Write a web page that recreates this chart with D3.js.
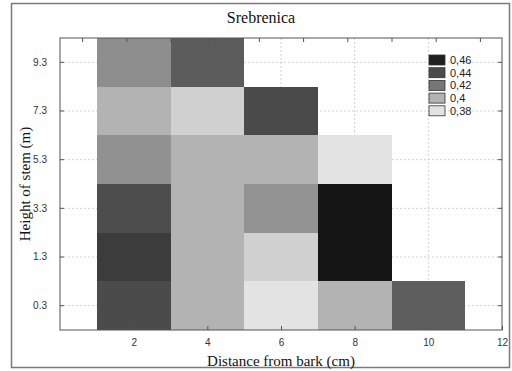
<!DOCTYPE html>
<html><head><meta charset="utf-8">
<script src="https://cdn.jsdelivr.net/npm/d3@7"></script>
<style>body{margin:0;background:#fff}svg{display:block}</style>
</head><body><svg id="c" width="512" height="371"></svg>
<script>
// ---- data ----
const heights = ["0.3","1.3","3.3","5.3","7.3","9.3"];
const distances = [2,4,6,8,10];
// values per distance column, listed bottom -> top (null = no data)
const col2  = [0.440, 0.447, 0.439, 0.411, 0.400, 0.412];
const col4  = [0.400, 0.400, 0.400, 0.400, 0.388, 0.432];
const col6  = [0.380, 0.388, 0.4105, 0.400, 0.4405, null];
const col8  = [0.400, 0.4645, 0.4645, 0.380, null, null];
const col10 = [0.431, null, null, null, null, null];
const legendValues = [0.46, 0.44, 0.42, 0.40, 0.38];
const legendLabels = ["0,46", "0,44", "0,42", "0,4", "0,38"];
const xTicks = [2, 4, 6, 8, 10, 12];
const title = "Srebrenica";
const xTitle = "Distance from bark (cm)";
const yTitle = "Height of stem (m)";

const columns = [col2, col4, col6, col8, col10];
const cells = [];
distances.forEach((d, i) => columns[i].forEach((v, j) => {
  if (v !== null) cells.push({d: d, h: heights[j], v: v});
}));

// ---- layout ----
const svg = d3.select("#c");
const L = 60, R = 502, T = 38, B = 330;
const x = d3.scaleLinear().domain([0, 12]).range([L, R]);
const y = d3.scaleBand().domain(heights).range([B, T]).padding(0);
const color = d3.scaleLinear()
  .domain([0.38, 0.40, 0.42, 0.44, 0.46])
  .range(["#e3e3e3", "#b3b3b3", "#767676", "#4b4b4b", "#1f1f1f"]);

svg.append("rect").attr("width", 512).attr("height", 371).attr("fill", "#fff");
// outer frame
svg.append("rect").attr("x", 11.5).attr("y", 3.5).attr("width", 498).attr("height", 364)
  .attr("fill", "none").attr("stroke", "#7a7a7a").attr("stroke-width", 1.5);

// grid
const g = svg.append("g");
g.selectAll(".vg").data(xTicks.filter(t => t < 12)).join("line")
  .attr("x1", d => x(d)).attr("x2", d => x(d)).attr("y1", T).attr("y2", B)
  .attr("stroke", "#c4c8cc").attr("stroke-width", 0.8).attr("stroke-dasharray", "2,2");
g.selectAll(".hg").data(heights).join("line")
  .attr("y1", d => y(d) + y.bandwidth() / 2).attr("y2", d => y(d) + y.bandwidth() / 2)
  .attr("x1", L).attr("x2", R)
  .attr("stroke", "#c4c8cc").attr("stroke-width", 0.8).attr("stroke-dasharray", "2,2");

// cells
svg.append("g").selectAll("rect").data(cells).join("rect")
  .attr("x", c => x(c.d - 1)).attr("width", c => x(c.d + 1) - x(c.d - 1))
  .attr("y", c => y(c.h)).attr("height", y.bandwidth())
  .attr("fill", c => color(c.v)).attr("shape-rendering", "crispEdges");

// axes
const tickFont = "Liberation Sans, Arial, sans-serif";
const ax = svg.append("g").attr("transform", `translate(0,${B})`)
  .call(d3.axisBottom(x).tickValues(xTicks).tickSize(-4).tickSizeOuter(0).tickPadding(9));
const ay = svg.append("g").attr("transform", `translate(${L},0)`)
  .call(d3.axisLeft(y).tickSize(-4).tickSizeOuter(0).tickPadding(13));
const ar = svg.append("g").attr("transform", `translate(${R},0)`)
  .call(d3.axisRight(y).tickSize(-4).tickSizeOuter(0).tickFormat(""));
const xt = d3.scaleLinear().domain([0, 1]).range([L, R]);
const at = svg.append("g").attr("transform", `translate(0,${T})`)
  .call(d3.axisTop(xt).tickValues(d3.range(10).map(i => (i + 0.5) / 10)).tickSize(-4).tickSizeOuter(0).tickFormat(""));
[ax, ay, ar, at].forEach(a => {
  a.select(".domain").remove();
  a.selectAll("line").attr("stroke", "#555");
  a.selectAll("text").attr("font-family", tickFont).attr("font-size", 10).attr("fill", "#333");
});

// plot border
svg.append("rect").attr("x", L).attr("y", T).attr("width", R - L).attr("height", B - T)
  .attr("fill", "none").attr("stroke", "#555").attr("stroke-width", 1);

// titles
const serif = "Liberation Serif, Times New Roman, serif";
svg.append("text").attr("x", 261).attr("y", 23).attr("text-anchor", "middle")
  .attr("font-family", serif).attr("font-size", 16).attr("fill", "#111").text(title);
svg.append("text").attr("x", (L + R) / 2).attr("y", 366).attr("text-anchor", "middle")
  .attr("font-family", serif).attr("font-size", 15).attr("fill", "#111").text(xTitle);
svg.append("text").attr("transform", `translate(30,${(T + B) / 2}) rotate(-90)`)
  .attr("text-anchor", "middle")
  .attr("font-family", serif).attr("font-size", 15).attr("fill", "#111").text(yTitle);

// legend
const lg = svg.append("g").attr("transform", "translate(429,55)");
const items = lg.selectAll("g").data(legendValues).join("g")
  .attr("transform", (d, i) => `translate(0,${i * 12.7})`);
items.append("rect").attr("width", 16).attr("height", 10)
  .attr("fill", d => color(d)).attr("stroke", "#333").attr("stroke-width", 0.8);
items.append("text").attr("x", 21).attr("y", 5).attr("dy", "0.35em")
  .attr("font-family", tickFont).attr("font-size", 11).attr("fill", "#222")
  .text((d, i) => legendLabels[i]);
</script></body></html>
